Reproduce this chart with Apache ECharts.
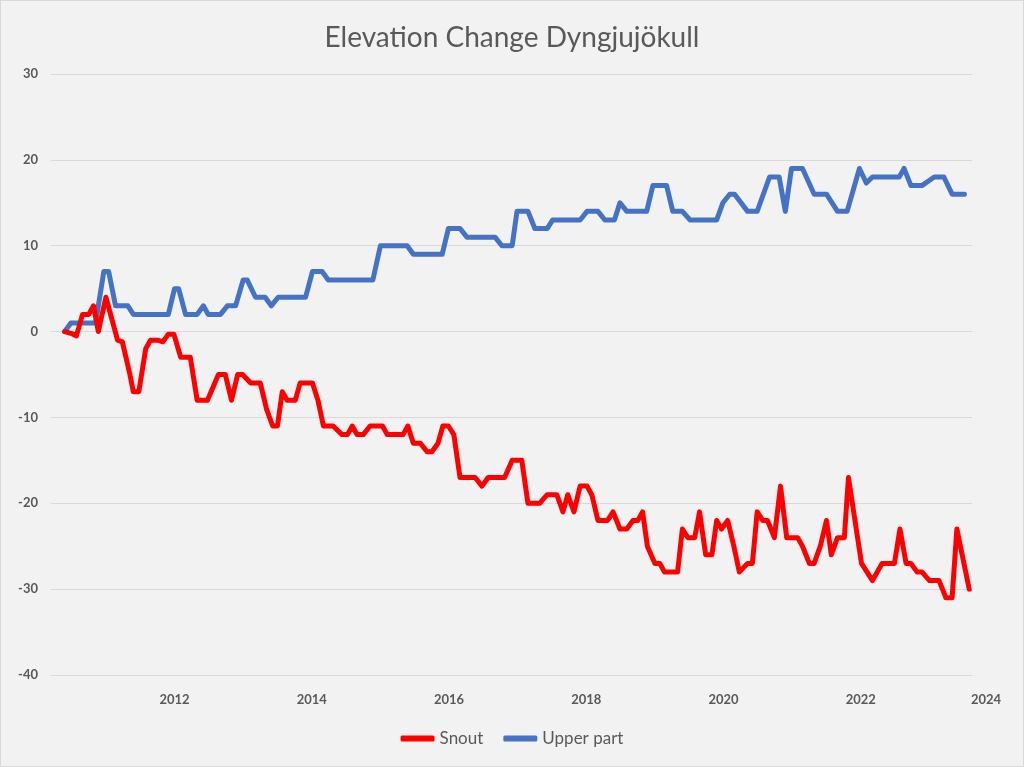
<!DOCTYPE html>
<html>
<head>
<meta charset="utf-8">
<script src="https://cdn.jsdelivr.net/npm/echarts@6/dist/echarts.min.js"></script>
<style>
html,body{margin:0;padding:0;background:#f2f2f2;}
#chart{width:1024px;height:767px;box-sizing:border-box;border:1px solid #d9d9d9;}
</style>
</head>
<body>
<div id="chart"></div>
<script>
const titleText = 'Elevation Change Dyngjujökull';
const seriesNames = ['Snout', 'Upper part'];
const xTickValues = [2012, 2014, 2016, 2018, 2020, 2022];
const xTickLastLabel = '2024';
const yTicks = [-40, -30, -20, -10, 0, 10, 20, 30];

const snoutYears = [2010.40,2010.49,2010.57,2010.66,2010.75,2010.82,2010.89,2011.00,2011.17,2011.24,2011.35,2011.40,2011.48,2011.58,2011.65,2011.75,2011.83,2011.91,2011.99,2012.09,2012.23,2012.33,2012.48,2012.64,2012.74,2012.83,2012.92,2012.99,2013.11,2013.25,2013.34,2013.43,2013.50,2013.57,2013.64,2013.76,2013.83,2014.01,2014.09,2014.17,2014.31,2014.44,2014.52,2014.59,2014.66,2014.75,2014.85,2015.03,2015.10,2015.33,2015.40,2015.48,2015.58,2015.68,2015.75,2015.84,2015.91,2015.99,2016.07,2016.16,2016.38,2016.48,2016.57,2016.81,2016.92,2017.06,2017.15,2017.32,2017.43,2017.57,2017.66,2017.73,2017.82,2017.91,2018.01,2018.08,2018.17,2018.31,2018.39,2018.49,2018.59,2018.68,2018.75,2018.82,2018.89,2019.00,2019.07,2019.14,2019.33,2019.40,2019.48,2019.58,2019.65,2019.74,2019.83,2019.90,2019.97,2020.06,2020.15,2020.23,2020.35,2020.42,2020.49,2020.57,2020.64,2020.74,2020.83,2020.92,2021.08,2021.15,2021.25,2021.32,2021.41,2021.50,2021.57,2021.66,2021.76,2021.82,2022.01,2022.17,2022.31,2022.49,2022.57,2022.66,2022.73,2022.82,2022.89,2023.00,2023.14,2023.24,2023.33,2023.40,2023.58];
const snoutValues = [0,-0.2,-0.5,2,2,3,0,4,-1,-1.2,-5,-7,-7,-2,-1,-1,-1.2,-0.3,-0.3,-3,-3,-8,-8,-5,-5,-8,-5,-5,-6,-6,-9,-11,-11,-7,-8,-8,-6,-6,-8,-11,-11,-12,-12,-11,-12,-12,-11,-11,-12,-12,-11,-13,-13,-14,-14,-13,-11,-11,-12,-17,-17,-18,-17,-17,-15,-15,-20,-20,-19,-19,-21,-19,-21,-18,-18,-19,-22,-22,-21,-23,-23,-22,-22,-21,-25,-27,-27,-28,-28,-23,-24,-24,-21,-26,-26,-22,-23,-22,-25,-28,-27,-27,-21,-22,-22,-24,-18,-24,-24,-25,-27,-27,-25,-22,-26,-24,-24,-17,-27,-29,-27,-27,-23,-27,-27,-28,-28,-29,-29,-31,-31,-23,-30];

const upperYears = [2010.40,2010.49,2010.85,2010.97,2011.04,2011.14,2011.32,2011.40,2011.91,2012.00,2012.06,2012.16,2012.33,2012.42,2012.49,2012.67,2012.77,2012.89,2013.00,2013.06,2013.18,2013.32,2013.41,2013.51,2013.91,2014.01,2014.15,2014.24,2014.89,2015.00,2015.39,2015.48,2015.90,2015.99,2016.16,2016.26,2016.67,2016.77,2016.92,2016.99,2017.15,2017.25,2017.43,2017.51,2017.91,2018.01,2018.17,2018.27,2018.41,2018.49,2018.59,2018.88,2018.97,2019.17,2019.26,2019.40,2019.51,2019.90,2019.99,2020.09,2020.16,2020.35,2020.49,2020.67,2020.81,2020.90,2020.99,2021.15,2021.32,2021.50,2021.66,2021.80,2021.98,2022.08,2022.17,2022.56,2022.63,2022.73,2022.89,2023.07,2023.21,2023.33,2023.51];
const upperValues = [0,1,1,7,7,3,3,2,2,5,5,2,2,3,2,2,3,3,6,6,4,4,3,4,4,7,7,6,6,10,10,9,9,12,12,11,11,10,10,14,14,12,12,13,13,14,14,13,13,15,14,14,17,17,14,14,13,13,15,16,16,14,14,18,18,14,19,19,16,16,14,14,19,17.3,18,18,19,17,17,18,18,16,16];

const xMin = 2010.2, xMax = 2023.62;

function pairs(xs, ys){ return xs.map((x,i)=>[x, ys[i]]); }

const chart = echarts.init(document.getElementById('chart'), null, {renderer:'canvas'});
const labelFont = {color:'#595959', fontWeight:'bold', fontSize:13, fontFamily:'Lato, "Open Sans", sans-serif'};
chart.setOption({
  backgroundColor:'#f2f2f2',
  animation:false,
  title:{text:titleText, left:'center', top:18, textStyle:{color:'#595959', fontSize:28, fontWeight:'normal', fontFamily:'Lato, "Open Sans", sans-serif'}},
  legend:{bottom:14, left:'center', icon:'roundRect', itemWidth:34, itemHeight:6, itemGap:20,
    textStyle:{color:'#595959', fontSize:17, fontFamily:'Lato, "Open Sans", sans-serif'}, data:seriesNames},
  grid:{left:50, right:51, top:73, bottom:91, containLabel:false},
  xAxis:{type:'value', min:xMin, max:xMax,
    axisLine:{show:false}, axisTick:{show:false}, splitLine:{show:false},
    axisLabel:Object.assign({}, labelFont, {margin:18, customValues: xTickValues.concat([xMax]),
      formatter:function(v){ return v > 2023 ? '{last|'+xTickLastLabel+'}' : String(Math.round(v)); },
      rich:{last:Object.assign({}, labelFont, {padding:[0,0,0,28]})}})
  },
  yAxis:{type:'value', min:yTicks[0], max:yTicks[yTicks.length-1], interval:10,
    axisLine:{show:false}, axisTick:{show:false},
    splitLine:{lineStyle:{color:'#d9d9d9', width:1}},
    axisLabel:Object.assign({}, labelFont, {margin:13})
  },
  series:[
    {name:seriesNames[0], type:'line', data:pairs(snoutYears, snoutValues), symbol:'none',
      lineStyle:{color:'#ff0000', width:5, join:'round', cap:'round'}, itemStyle:{color:'#ff0000'}, z:3},
    {name:seriesNames[1], type:'line', data:pairs(upperYears, upperValues), symbol:'none',
      lineStyle:{color:'#4472c4', width:5, join:'round', cap:'round'}, itemStyle:{color:'#4472c4'}, z:2}
  ]
});
</script>
</body>
</html>
